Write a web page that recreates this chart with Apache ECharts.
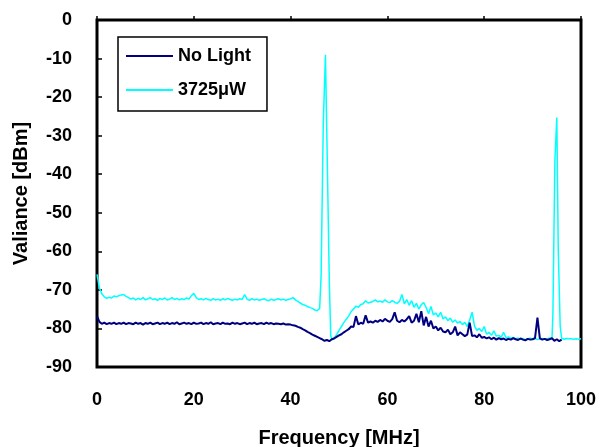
<!DOCTYPE html>
<html>
<head>
<meta charset="utf-8">
<script src="https://cdn.jsdelivr.net/npm/echarts@6/dist/echarts.min.js"></script>
<style>
html,body{margin:0;padding:0;background:#fff;}
#chart{width:602px;height:447px;}
</style>
</head>
<body>
<div id="chart"></div>
<script>
// Frequency step of the sampled traces (MHz)
const stepMHz = 0.5;

// "No Light" trace, 0 .. 96 MHz every 0.5 MHz (dBm)
const noLightValues = [
  -76.8,-78.3,-78.8,-78.5,-78.9,-78.6,-78.8,-78.5,-78.9,-78.6,
  -78.8,-78.5,-78.9,-78.6,-78.7,-78.9,-78.5,-78.8,-78.6,-79.0,
  -78.6,-78.8,-78.5,-78.9,-78.7,-78.5,-78.9,-78.6,-78.8,-78.5,
  -78.9,-78.6,-78.8,-78.4,-78.9,-78.7,-78.5,-78.8,-78.6,-78.9,
  -78.5,-78.8,-78.7,-78.5,-78.9,-78.6,-78.8,-78.4,-78.9,-78.7,
  -78.6,-78.9,-78.5,-78.8,-78.7,-78.9,-78.5,-78.8,-78.6,-78.9,
  -78.7,-78.5,-78.9,-78.6,-78.8,-78.5,-78.9,-78.7,-78.6,-78.9,
  -78.5,-78.8,-78.6,-78.9,-78.7,-78.8,-78.9,-78.7,-79.0,-78.9,
  -79.0,-79.2,-79.3,-79.6,-79.8,-80.2,-80.5,-80.9,-81.2,-81.6,
  -81.9,-82.2,-82.5,-82.8,-83.2,-83.0,-83.3,-82.8,-82.6,-82.2,
  -81.8,-81.5,-81.0,-80.6,-80.2,-79.5,-79.6,-76.8,-79.0,-78.5,
  -78.8,-76.6,-78.5,-78.2,-78.5,-78.0,-78.3,-77.8,-78.2,-77.5,
  -78.0,-78.3,-77.6,-75.8,-78.0,-78.4,-77.8,-78.2,-77.6,-76.8,
  -78.5,-78.0,-76.2,-78.4,-75.5,-79.2,-77.0,-79.5,-78.0,-80.0,
  -79.5,-80.5,-79.8,-80.8,-81.0,-80.3,-81.5,-81.0,-79.5,-81.8,
  -81.0,-81.5,-82.0,-81.6,-78.5,-82.0,-81.8,-82.3,-81.5,-82.4,
  -82.2,-82.6,-82.3,-82.8,-82.4,-82.9,-82.5,-82.8,-82.6,-83.0,
  -82.7,-82.9,-82.5,-82.8,-83.0,-82.6,-82.9,-83.1,-82.7,-82.9,
  -82.8,-82.5,-77.2,-82.6,-82.9,-82.7,-83.0,-82.8,-82.5,-83.2,
  -82.8,-83.3,-82.9
];

// "3725µW" trace, 0 .. 100 MHz every 0.5 MHz (null where the peaks below take over)
const lightValues = [
  -66.0,-69.5,-71.0,-71.8,-72.2,-71.9,-72.1,-71.6,-71.8,-71.5,
  -71.3,-71.2,-71.7,-72.0,-72.4,-72.1,-72.6,-72.2,-72.5,-72.0,
  -72.6,-72.3,-72.0,-72.5,-72.3,-72.7,-72.2,-72.5,-72.1,-72.6,
  -72.4,-72.0,-72.5,-72.2,-72.6,-72.3,-72.5,-72.1,-72.4,-71.5,
  -70.9,-72.0,-72.5,-72.3,-72.6,-72.2,-72.5,-72.7,-72.3,-72.6,
  -72.4,-72.7,-72.3,-72.6,-72.2,-72.5,-72.7,-72.4,-72.6,-72.3,
  -72.5,-71.2,-72.4,-72.7,-72.3,-72.6,-72.4,-72.7,-72.5,-72.3,
  -72.6,-72.8,-72.4,-72.7,-72.5,-72.3,-72.6,-72.4,-72.7,-72.5,
  -72.3,-72.0,-72.6,-73.0,-73.4,-73.8,-74.0,-74.3,-74.6,-74.8,
  -75.2,-75.4,-74.8,null,null,null,null,null,-82.5,-81.6,
  -80.5,-79.5,-78.5,-77.6,-76.8,-75.6,-75.0,-74.2,-74.5,-73.8,
  -73.6,-72.8,-73.4,-73.2,-73.0,-72.6,-73.1,-72.9,-73.2,-72.6,
  -73.1,-73.3,-72.8,-73.2,-73.5,-73.0,-71.2,-73.6,-72.5,-74.0,
  -72.8,-74.5,-73.5,-75.0,-73.8,-73.3,-74.5,-76.2,-74.3,-76.5,
  -76.0,-77.0,-75.8,-77.5,-77.0,-78.0,-77.3,-78.4,-77.8,-78.6,
  -78.2,-79.0,-78.4,-79.5,-77.8,-75.8,-79.4,-80.5,-80.0,-80.8,
  -79.5,-81.5,-81.0,-81.8,-80.6,-82.0,-81.8,-82.3,-81.0,-82.4,
  -82.2,-82.6,-82.3,-82.7,-82.5,-82.8,-82.6,-82.9,-82.7,-82.5,
  -82.8,-82.6,-82.9,-82.7,-82.6,-82.8,-82.7,-82.5,-82.8,null,
  null,null,-82.5,-82.8,-82.6,-82.7,-82.7,-82.8,-82.7,-82.8,
  -82.7
];

// Narrow peaks of the "3725µW" trace
const peak1Freq = [46.3, 46.75, 47.2, 47.6, 48.0, 48.3, 48.6];
const peak1Vals = [-66.5, -27.0, -9.0, -38.0, -68.0, -82.0, -83.0];
const peak2Freq = [94.2, 94.6, 95.0, 95.3, 95.7];
const peak2Vals = [-76.0, -36.7, -25.3, -59.5, -79.5];

// Axes
const xTicks = [0, 20, 40, 60, 80, 100];
const yTicks = [-90, -80, -70, -60, -50, -40, -30, -20, -10, 0];
const seriesNames = ['No Light', '3725\u03bcW'];

// Build [freq, value] pairs
const noLightData = noLightValues.map((v, i) => [i * stepMHz, v]);
let lightData = [];
lightValues.forEach((v, i) => { if (v !== null) lightData.push([i * stepMHz, v]); });
peak1Freq.forEach((f, i) => lightData.push([f, peak1Vals[i]]));
peak2Freq.forEach((f, i) => lightData.push([f, peak2Vals[i]]));
lightData.sort((a, b) => a[0] - b[0]);

const FONT = "'Liberation Sans', Arial, sans-serif";
const chart = echarts.init(document.getElementById('chart'), null, {renderer: 'canvas'});
chart.setOption({
  animation: false,
  backgroundColor: '#fff',
  grid: {
    left: 97, right: 21, top: 20, bottom: 80,
    outerBoundsMode: 'none', containLabel: false,
    show: true, borderColor: '#000', borderWidth: 3, backgroundColor: 'transparent'
  },
  legend: {
    data: seriesNames,
    orient: 'vertical',
    left: 118, top: 37,
    padding: [9, 16, 11, 8],
    itemGap: 14,
    icon: 'rect',
    itemWidth: 47, itemHeight: 2,
    borderColor: '#000', borderWidth: 1.5,
    backgroundColor: '#fff',
    textStyle: {fontFamily: FONT, fontWeight: 'bold', fontSize: 18, color: '#000', lineHeight: 20}
  },
  xAxis: [{
    type: 'value', min: xTicks[0], max: xTicks[xTicks.length - 1], interval: 20,
    position: 'bottom',
    axisLine: {show: false},
    axisTick: {show: false},
    splitLine: {show: false},
    axisLabel: {margin: 24, fontFamily: FONT, fontWeight: 'bold', fontSize: 18, color: '#000'},
    name: 'Frequency [MHz]', nameLocation: 'middle', nameGap: 61,
    nameTextStyle: {fontFamily: FONT, fontWeight: 'bold', fontSize: 20, color: '#000'}
  }, {
    type: 'value', min: xTicks[0], max: xTicks[xTicks.length - 1], interval: 20,
    position: 'top',
    axisLine: {show: false},
    axisTick: {show: true, inside: false, length: 4, lineStyle: {color: '#000', width: 1.5}},
    axisLabel: {show: false},
    splitLine: {show: false}
  }],
  yAxis: {
    type: 'value', min: yTicks[0], max: yTicks[yTicks.length - 1], interval: 10,
    axisLine: {show: false},
    axisTick: {show: true, inside: true, length: 5, lineStyle: {color: '#000', width: 1.5}},
    splitLine: {show: false},
    axisLabel: {margin: 25, fontFamily: FONT, fontWeight: 'bold', fontSize: 18, color: '#000'},
    name: 'Valiance [dBm]', nameLocation: 'middle', nameGap: 66, nameRotate: 90,
    nameTextStyle: {fontFamily: FONT, fontWeight: 'bold', fontSize: 20, color: '#000'}
  },
  series: [{
    name: seriesNames[1], type: 'line', data: lightData,
    showSymbol: false, symbol: 'none',
    lineStyle: {color: '#00FFFF', width: 1.5}, itemStyle: {color: '#00FFFF'}, z: 2
  }, {
    name: seriesNames[0], type: 'line', data: noLightData,
    showSymbol: false, symbol: 'none',
    lineStyle: {color: '#000080', width: 2}, itemStyle: {color: '#000080'}, z: 3
  }]
});
</script>
</body>
</html>
